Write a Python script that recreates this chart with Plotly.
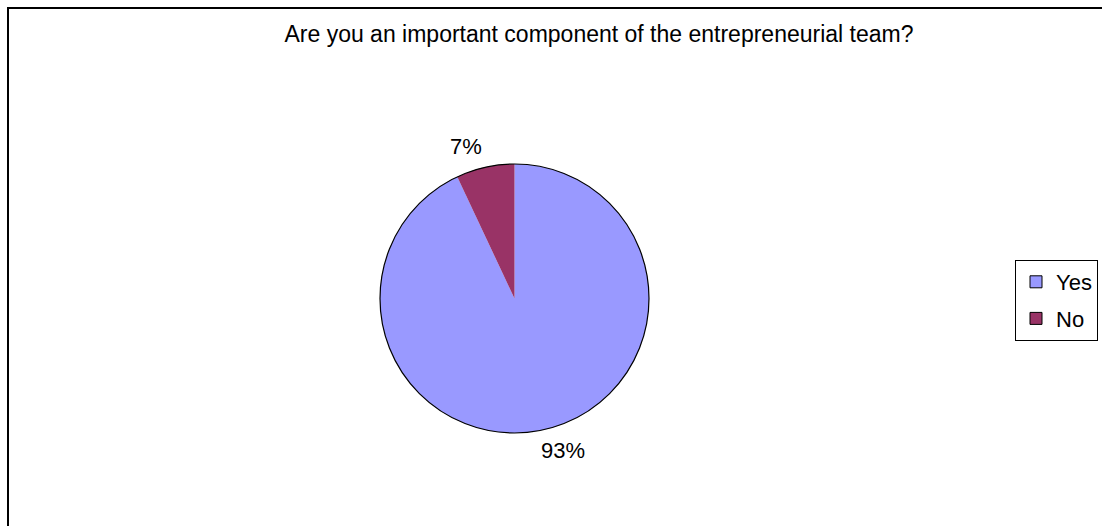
import math
import plotly.graph_objects as go

# Survey answers
labels = ["Yes", "No"]
values = [93, 7]
colors = ["#9999FF", "#993366"]
title_text = "Are you an important component of the entrepreneurial team?"

W, H = 1102, 526
FONT = "Liberation Sans, Arial, sans-serif"

# Pie placement (pixels)
cx, cy, r = 514.5, 298.5, 134.5
dom_x = [(cx - r) / W, (cx + r) / W]
dom_y = [1 - (cy + r) / H, 1 - (cy - r) / H]

fig = go.Figure()

# Slices, clockwise from 12 o'clock, no radial edge lines
fig.add_trace(go.Pie(
    labels=labels, values=values, sort=False, direction="clockwise", rotation=0,
    marker=dict(colors=colors, line=dict(width=0)),
    textinfo="none", hoverinfo="label+percent", showlegend=False,
    domain=dict(x=dom_x, y=dom_y),
))

# Black outline around the whole pie
fig.add_trace(go.Pie(
    labels=["outline"], values=[sum(values)], sort=False,
    marker=dict(colors=["rgba(0,0,0,0)"], line=dict(color="black", width=1.2)),
    textinfo="none", hoverinfo="skip", showlegend=False,
    domain=dict(x=dom_x, y=dom_y),
))

# Legend entries with black-bordered square swatches
for i, (lab, col) in enumerate(zip(labels, colors)):
    fig.add_trace(go.Scatter(
        x=[None], y=[None], mode="markers", name=lab, legendgroup=f"g{i}",
        marker=dict(symbol="square", size=12, color=col,
                    line=dict(color="black", width=1)),
    ))

# Percentage labels just outside each slice's mid-angle
total = sum(values)
annotations = []
start = 0.0
gap = 6
for v in values:
    mid = (start + v / 2) / total * 2 * math.pi  # clockwise from top
    start += v
    sx, sy = math.sin(mid), -math.cos(mid)
    px = cx + sx * (r + gap)
    py = cy + sy * (r + gap)
    annotations.append(dict(
        x=px / W, y=1 - py / H, xref="paper", yref="paper",
        text=f"{round(v / total * 100)}%", showarrow=False,
        xanchor="left" if sx >= 0 else "right",
        yanchor="top" if sy >= 0 else "bottom",
        xshift=-6 if sx >= 0 else 0,
        font=dict(family=FONT, size=22, color="black"),
    ))

fig.update_layout(
    width=W, height=H,
    margin=dict(l=0, r=0, t=0, b=0),
    paper_bgcolor="white", plot_bgcolor="white",
    font=dict(family=FONT, size=22, color="black"),
    title=dict(text=title_text, x=599 / W, xanchor="center",
               y=1 - 34 / H, yanchor="middle", yref="container",
               font=dict(family=FONT, size=23, color="black")),
    xaxis=dict(visible=False), yaxis=dict(visible=False),
    legend=dict(x=1015 / W, y=1 - 260 / H, xanchor="left", yanchor="top",
                bordercolor="black", borderwidth=1, bgcolor="white",
                font=dict(family=FONT, size=22, color="black"),
                traceorder="grouped", tracegroupgap=5),
    annotations=annotations,
    shapes=[dict(type="rect", xref="paper", yref="paper",
                 x0=8 / W, x1=1 + 20 / W, y0=-20 / H, y1=1 - 8 / H,
                 line=dict(color="black", width=2), layer="above")],
)

fig.write_html("out.html")
